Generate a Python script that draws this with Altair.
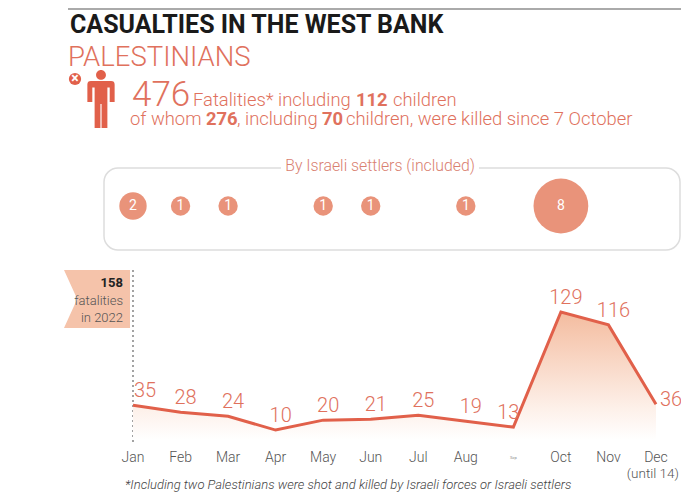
import altair as alt
import pandas as pd

# Monthly Palestinian fatalities in the West Bank
months = ["Jan", "Feb", "Mar", "Apr", "May", "Jun", "Jul", "Aug", "Sep", "Oct", "Nov", "Dec"]
fatalities = [35, 28, 24, 10, 20, 21, 25, 19, 13, 129, 116, 36]

# Killed by Israeli settlers (included in the above)
settler_months = ["Jan", "Feb", "Mar", "May", "Jun", "Aug", "Oct"]
settler_killed = [2, 1, 1, 1, 1, 1, 8]

FONT = "Roboto"
ORANGE = "#e0715d"
LINE = "#e1604a"
BUBBLE = "#e9937a"
PEACH = "#f5c3aa"

df = pd.DataFrame({"month": months, "fatalities": fatalities})
df_set = pd.DataFrame({"month": settler_months, "killed": settler_killed})
one = pd.DataFrame({"a": [0]})

x = alt.X("month:N", scale=alt.Scale(type="point", domain=months, range=[125, 648], padding=0), axis=None)
y = alt.Y("fatalities:Q", scale=alt.Scale(domain=[0, 129], range=[432, 304]), axis=None)


def label(text, px, py, size=13, color="#333", weight="normal", align="left", style="normal", baseline="alphabetic"):
    return alt.Chart(one).mark_text(
        text=text, font=FONT, fontSize=size, color=color, fontWeight=weight,
        align=align, fontStyle=style, baseline=baseline
    ).encode(x=alt.value(px), y=alt.value(py))


# header
top_rule = alt.Chart(one).mark_rule(color="#aaaaaa", strokeWidth=2).encode(
    x=alt.value(60), x2=alt.value(673), y=alt.value(1))
title = label("CASUALTIES IN THE WEST BANK", 62, 25, size=25, color="#1a1a1a", weight="bold")
sub = label("PALESTINIANS", 60, 58, size=27.5, color=ORANGE, weight=300)

x_icon = alt.Chart(one).mark_circle(color=LINE, size=150, opacity=1).encode(
    x=alt.value(67), y=alt.value(71))
x_mark = label("×", 67, 71, size=14, color="white", weight="bold", align="center", baseline="middle")
person_path = (
    "M0,-1 A0.17,0.17 0 1,1 0,-0.66 A0.17,0.17 0 1,1 0,-1 Z "
    "M-0.35,-0.62 L0.35,-0.62 Q0.47,-0.62 0.47,-0.5 L0.47,0.1 L0.3,0.1 L0.3,-0.4 "
    "L0.22,-0.4 L0.22,1 L0.02,1 L0.02,0.17 L-0.02,0.17 L-0.02,1 L-0.22,1 L-0.22,-0.4 "
    "L-0.3,-0.4 L-0.3,0.1 L-0.47,0.1 L-0.47,-0.5 Q-0.47,-0.62 -0.35,-0.62 Z"
)
person = alt.Chart(one).mark_point(shape=person_path, filled=True, color=LINE, size=3364,
                                   opacity=1, strokeWidth=0).encode(x=alt.value(93), y=alt.value(91))

head = [
    label("476", 124, 98, size=35, color=ORANGE, weight=300),
    label("Fatalities* including", 185, 98, size=18.4, color=ORANGE, weight=300),
    label("112", 348, 98, size=18.4, color=ORANGE, weight="bold"),
    label("children", 385, 98, size=18.4, color=ORANGE, weight=300),
    label("of whom", 122, 117, size=18.4, color=ORANGE, weight=300),
    label("276", 198, 117, size=18.4, color=ORANGE, weight="bold"),
    label(", including", 229, 117, size=18.4, color=ORANGE, weight=300),
    label("70", 314, 117, size=18.4, color=ORANGE, weight="bold"),
    label("children, were killed since 7 October", 338, 117, size=18.4, color=ORANGE, weight=300),
]

# settlers box
box = alt.Chart(one).mark_rect(fill="white", stroke="#dddddd", strokeWidth=1.5, cornerRadius=14).encode(
    x=alt.value(96), x2=alt.value(672), y=alt.value(160), y2=alt.value(242))
box_gap = alt.Chart(one).mark_rect(fill="white").encode(
    x=alt.value(273), x2=alt.value(471), y=alt.value(150), y2=alt.value(166))
box_title = label("By Israeli settlers (included)", 372, 163, size=15.8, color="#d98070", align="center",
                  weight=300)

bubbles = alt.Chart(df_set).mark_circle(color=BUBBLE, opacity=1).encode(
    x=x, y=alt.value(198),
    size=alt.Size("killed:Q", scale=alt.Scale(domain=[0, 8], range=[0, 3000]), legend=None))
bubble_text = alt.Chart(df_set).mark_text(font=FONT, fontSize=14, color="white", baseline="middle").encode(
    x=x, y=alt.value(198), text="killed:Q")

# 2022 flag
flag = alt.Chart(one).mark_point(
    shape="M-1,-0.879 L1,-0.879 L1,0.879 L-1,0.879 L-0.6,0 Z",
    filled=True, color=PEACH, size=4356, opacity=1, strokeWidth=0
).encode(x=alt.value(89), y=alt.value(291))
flag_text = [
    label("158", 115, 279, size=13, color="#222", weight="bold", align="right"),
    label("fatalities", 115, 297, size=13, color="#555", align="right", weight=300),
    label("in 2022", 115, 314, size=13, color="#555", align="right", weight=300),
]
dotted = alt.Chart(one).mark_rule(color="#666", strokeDash=[2, 3], strokeWidth=1.2).encode(
    x=alt.value(125), y=alt.value(262), y2=alt.value(437))

# line chart
area = alt.Chart(df).mark_area(
    color=alt.Gradient(gradient="linear", x1=0, x2=0, y1=0, y2=1,
                       stops=[alt.GradientStop(color="#f4bc9f", offset=0),
                              alt.GradientStop(color="#fdf0e9", offset=0.75),
                              alt.GradientStop(color="#ffffff", offset=1)])
).encode(x=x, y=y)
line = alt.Chart(df).mark_line(color=LINE, strokeWidth=3).encode(x=x, y=y)

num = dict(font=FONT, fontSize=20, color=ORANGE, baseline="bottom", fontWeight=300)
labels_mid = alt.Chart(df).mark_text(dx=5, dy=-4, **num).encode(x=x, y=y, text="fatalities:Q").transform_filter(
    "datum.month != 'Jan' && datum.month != 'Sep' && datum.month != 'Dec'")
label_jan = alt.Chart(df).mark_text(align="left", dx=1, dy=-4, **num).encode(
    x=x, y=y, text="fatalities:Q").transform_filter("datum.month == 'Jan'")
label_sep = alt.Chart(df).mark_text(dx=-5, dy=-4, **num).encode(
    x=x, y=y, text="fatalities:Q").transform_filter("datum.month == 'Sep'")
label_dec = alt.Chart(df).mark_text(align="left", dx=4, dy=6, **num).encode(
    x=x, y=y, text="fatalities:Q").transform_filter("datum.month == 'Dec'")

month_text = alt.Chart(df).mark_text(font=FONT, color="#555", fontWeight=300).encode(
    x=x, y=alt.value(450), text="month:N",
    size=alt.condition("datum.month == 'Sep'", alt.value(4), alt.value(14)))
until = label("(until 14)", 671, 470, size=13.5, color="#555", align="right", weight=300)

footnote = label("*Including two Palestinians were shot and killed by Israeli forces or Israeli settlers",
                 117, 481, size=13, color="#444", style="italic", weight=300)

chart = alt.layer(
    top_rule, title, sub, x_icon, x_mark, person, *head,
    box, box_gap, box_title, bubbles, bubble_text,
    flag, *flag_text, dotted,
    area, line, labels_mid, label_jan, label_sep, label_dec,
    month_text, until, footnote
).properties(
    width=673, height=484, padding=0, autosize="none"
).configure_view(stroke=None)

chart.save("out.html", embed_options={"renderer": "svg", "actions": False})
